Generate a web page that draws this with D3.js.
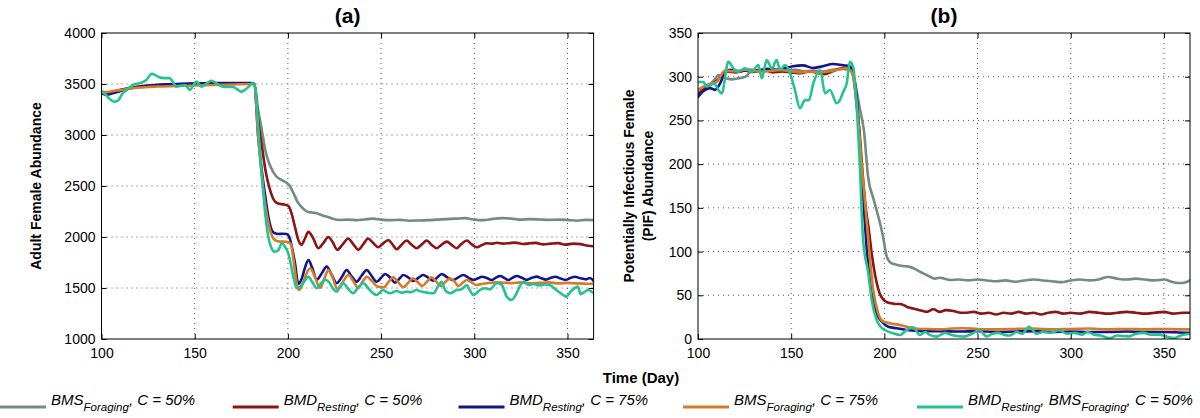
<!DOCTYPE html>
<html><head><meta charset="utf-8">
<script src="https://cdn.jsdelivr.net/npm/d3@7"></script>
<style>
body{margin:0;background:#fff}
svg{display:block}
text{font-family:"Liberation Sans",Arial,Helvetica,sans-serif;fill:#000}
</style>
</head><body>
<svg id="chart" width="1200" height="418"></svg>
<script>
// ---------- data ----------
const xTicks = [100,150,200,250,300,350];
const aTicks = [1000,1500,2000,2500,3000,3500,4000];
const bTicks = [0,50,100,150,200,250,300,350];
const xDomain = [100,364];
const aDomain = [1000,4000];
const bDomain = [0,350];
const titles = ["(a)","(b)"];
const aYLabel = ["Adult Female Abundance"];
const bYLabel = ["Potentially Infectious Female","(PIF) Abundance"];
const xLabel = "Time (Day)";
const seriesColors = ["#718c84","#8c1414","#14148c","#d77a28","#22c391"];

// Panel (a): adult female abundance  [day, value]
const aGrey = [[100,3420],[103,3408],[106,3420],[110,3440],[115,3460],[120,3475],[125,3485],[130,3490],[140,3495],[150,3500],[160,3500],[170,3505],[180,3505],[182,3500],[184,3250],[186,3050],[188,2840],[190,2720],[192,2640],[194,2590],[196,2565],[198,2545],[199.5,2530],[201,2500],[203,2430],[205,2350],[207,2300],[209,2265],[211,2245],[213,2240],[215.5,2232],[218,2215],[221,2199],[224,2180],[228,2167],[232,2170],[237,2165],[241,2172],[245.7,2180],[250,2170],[255,2165],[260,2168],[265,2160],[270,2162],[275,2165],[280,2170],[285,2175],[290,2180],[295,2185],[300,2170],[305,2165],[310,2178],[315,2185],[320,2180],[325,2170],[330,2175],[335,2172],[340,2168],[345,2170],[350,2168],[355,2160],[360,2168],[364,2165]];
const aRed = [[100,3420],[103,3405],[106,3420],[110,3440],[115,3460],[120,3475],[125,3485],[130,3490],[140,3495],[150,3500],[160,3500],[170,3505],[180,3505],[182,3500],[184,3150],[186,2900],[188,2650],[190.4,2461],[192,2380],[193.5,2340],[195.5,2325],[197.5,2320],[200.2,2305],[202,2230],[203.5,2120],[205.6,1971],[207.4,1925],[209,1980],[211,2050],[213.5,1990],[216.3,1890],[219,1940],[221.7,2000],[224,1950],[226.5,1875],[229.5,1930],[232.4,1985],[235,1930],[237.8,1875],[240.5,1930],[243,1985],[245.5,1945],[248.5,1900],[251,1935],[253.9,1970],[256,1930],[258.4,1880],[261,1925],[263.7,1965],[266,1930],[269,1890],[272,1930],[274.5,1965],[277,1925],[279.8,1890],[282.5,1925],[285.2,1955],[288,1920],[290.5,1890],[293,1930],[296,1965],[298.5,1930],[301.3,1900],[304,1920],[306.7,1938],[309.5,1935],[312,1944],[315.5,1935],[319,1940],[322,1945],[326,1932],[330,1938],[333,1942],[337,1928],[341,1935],[345,1940],[349,1925],[353,1935],[357,1930],[361,1915],[364,1910]];
const aNavy = [[100,3410],[103,3395],[106,3410],[110,3430],[115,3455],[120,3470],[125,3480],[130,3490],[140,3500],[150,3505],[160,3510],[170,3510],[180,3510],[182,3500],[184,3000],[186,2650],[188,2380],[189.5,2200],[191.3,2069],[193,2036],[195,2030],[197,2032],[199.4,2030],[201,1987],[202.5,1870],[203.8,1742],[205.6,1540],[207.4,1590],[209,1690],[211,1775],[213,1700],[215.5,1580],[218,1640],[220.8,1710],[223.5,1630],[226.2,1548],[229,1610],[231.5,1676],[234,1620],[236.9,1562],[239.5,1620],[242.3,1676],[244.5,1630],[247.6,1562],[250,1600],[252.1,1637],[255,1600],[257.5,1552],[260,1595],[261.9,1627],[264.5,1605],[267.3,1569],[270,1600],[272.6,1627],[275,1605],[278,1572],[280,1600],[282.5,1637],[285.5,1605],[288.7,1578],[291,1600],[294.1,1627],[297,1600],[299.5,1578],[302,1595],[304,1611],[307,1595],[309.3,1578],[311.5,1600],[313.8,1617],[316,1600],[318.2,1578],[320.5,1600],[322.7,1617],[325.5,1600],[328,1580],[331,1600],[333.5,1612],[336,1595],[338.5,1582],[341,1600],[343.5,1610],[346,1595],[349,1580],[351.5,1598],[354,1610],[357,1595],[360,1585],[362,1598],[364,1570]];
const aOrange = [[100,3430],[103,3420],[106,3430],[110,3440],[115,3455],[120,3465],[125,3470],[130,3475],[140,3480],[150,3485],[160,3490],[170,3495],[180,3500],[182,3495],[184,3000],[186,2600],[188,2300],[190,2100],[192,1990],[194,1960],[196,1955],[198,1955],[200,1950],[201.6,1930],[203,1780],[204.7,1550],[206,1480],[207.5,1520],[209.5,1620],[211.9,1693],[214.5,1610],[217.2,1500],[219.5,1590],[221.7,1676],[224,1600],[226.5,1490],[229.5,1560],[232.4,1627],[235,1570],[237.8,1500],[240,1560],[242.3,1611],[245,1570],[248,1515],[251.5,1507],[254,1560],[256.6,1604],[259,1560],[262,1507],[264.5,1550],[267,1594],[269.5,1560],[272,1520],[274.5,1560],[277,1604],[279.5,1565],[282,1520],[284.5,1560],[287,1594],[289.5,1560],[291.5,1520],[294,1555],[296,1578],[298.5,1555],[301,1530],[304,1540],[306.7,1546],[311,1555],[315.6,1552],[320,1548],[325,1555],[330,1545],[335,1550],[340,1555],[345,1545],[350,1550],[355,1545],[360,1542],[364,1540]];
const aTeal = [[100,3425],[102,3400],[104,3360],[107,3326],[109,3340],[111,3400],[114,3450],[118,3500],[121,3510],[124,3540],[127,3600],[129.6,3580],[132,3560],[136.7,3556],[138,3530],[140,3474],[142,3480],[144.8,3490],[147.5,3441],[149,3480],[151,3523],[153.7,3474],[156,3500],[159,3532],[162,3500],[165,3474],[168,3470],[170.5,3470],[173,3445],[175,3425],[178,3458],[181.3,3507],[182.5,3470],[184,3100],[185.5,2700],[186.5,2500],[188,2200],[189.5,2003],[191,1900],[193,1856],[194.9,1873],[196.7,1938],[198.4,1905],[200.2,1840],[201.5,1740],[202.9,1611],[204.7,1497],[206.5,1513],[209,1570],[211,1611],[213,1560],[215.5,1497],[217.5,1540],[219.9,1578],[222,1560],[224,1500],[226.2,1464],[228,1510],[229.7,1546],[232,1500],[235,1448],[237.5,1500],[240.4,1546],[243,1500],[245.8,1448],[247.6,1431],[249.5,1460],[251.2,1480],[253,1460],[254.8,1448],[258.4,1470],[261,1455],[263.7,1464],[266,1460],[269,1480],[271.5,1465],[274.5,1455],[278,1448],[280.7,1520],[282.5,1562],[284.3,1480],[287,1448],[290.5,1480],[293.2,1487],[296,1530],[297.5,1480],[299.5,1431],[301.5,1455],[303,1480],[305.7,1497],[308.4,1487],[312,1546],[314.7,1530],[317.4,1415],[320,1383],[322.7,1448],[324.5,1520],[326.6,1562],[329,1530],[332,1540],[335,1525],[338,1535],[341,1525],[344,1480],[347,1440],[349.3,1415],[352,1470],[355.6,1513],[357,1440],[359,1460],[361,1480],[364,1448]];

// Panel (b): potentially infectious female abundance  [day, value]
const bGrey = [[100,284],[103,286],[106,290],[109,297],[111,302],[113,300],[115.5,298],[118.2,297],[121,298],[125.4,300],[128,305],[132,306],[137,307],[142,306],[147,307],[152,308],[157,306],[162,307],[167,306],[172,308],[177,309],[181,308],[183,304],[185,285],[187,262],[189,239],[191.3,185],[194.2,160],[197,138],[199.2,118],[201.2,95],[203.5,87],[206.5,85],[210,83.5],[213.7,82.5],[216.5,80],[219,77],[222,74],[224.4,71.3],[227,69],[229.8,70],[232.2,69],[235.2,67.5],[240,68],[245,67],[250,68],[255,67],[260,66],[265,67],[270,65.5],[275,67],[280,68],[285,67],[290,66],[295,65],[300,67],[305,68],[310,67],[315,68],[320,71],[325,69],[330,68],[335,69],[340,68],[345,67],[350,68],[355,65],[360,64],[364,67]];
const bRed = [[100,280],[103,285],[106,290],[110,295],[113,302],[116,306],[120,305],[125,307],[130,306],[135,308],[140,305],[145,306],[150,305],[155,304],[160,306],[165,304],[168,303],[172,306],[176,309],[180,310],[182,308],[183.5,300],[185,270],[186.6,239],[188.3,190],[190,150],[191.5,128],[193.2,98],[195.5,68],[197.5,52],[199.5,45],[201.5,42],[203.8,40.8],[206,40],[208.4,40],[211,38],[213,36],[215.5,35],[219,33],[222.7,31],[226.3,34],[229.8,31],[233,33],[237,32],[241,30],[244.2,30],[248,31],[252,29],[256,30],[260,28],[264,30],[268,29],[272,31],[276,29],[280,30],[284,28],[288,30],[292,31],[296,29],[300,30],[305,29],[310,31],[315,30],[320,29],[325,30],[330,31],[335,30],[340,29],[345,30],[350,31],[355,29],[360,30],[364,30]];
const bNavy = [[100,277],[103.8,285],[106.4,287],[109.1,285],[111.8,292],[114.5,305],[117.2,308],[122,306],[127,308],[132,307],[137,309],[142,308],[147,310],[151,312],[156.3,313],[161.7,310],[167,312],[172.4,314.5],[177.9,313],[181.5,312],[183,305],[185,280],[187,220],[189.3,140],[191.3,85],[193.2,52],[195.9,29],[198.6,20],[202.1,14],[206.6,12.3],[212,10.3],[220,9],[230,9],[240,8.5],[250,9],[260,8],[270,8.5],[280,9],[290,8],[300,8.5],[310,8],[320,8],[330,8.5],[340,8],[350,8],[358,7.5],[364,7]];
const bOrange = [[100,285],[104.7,290.5],[110,294],[114.5,307],[120,306],[125,308],[130,307],[135,306],[140,307],[144,307.7],[150,306],[155,305],[160,306],[165,305],[170,306],[175,308],[179.7,309.6],[182,307],[184,290],[186,250],[188,195],[191.4,113],[194,56],[196.7,29.4],[199.4,20],[203,18],[208.4,16],[212,14],[215.5,12.3],[220,11.5],[224.4,11.4],[230,11],[236,12],[242.3,12.3],[250,11.5],[260,11],[270,11.5],[280,12],[290,11],[300,11.5],[310,12],[320,11],[330,11.5],[340,11],[350,11.5],[358,11],[364,11]];
const bTeal = [[100,294],[102.9,294],[104.7,288.6],[108.3,292.5],[112.7,281],[116.3,317],[119,309.6],[121.7,305.7],[125.2,309.6],[128.8,305.7],[132.4,313.4],[134.2,298.2],[136.9,319],[139.6,309.6],[142.2,319],[144,307.7],[146.7,313.4],[149.4,303.9],[152,284.8],[154.7,263.9],[157.4,273.4],[159.5,273],[161.9,292.5],[165.5,307.7],[168.2,281],[170.8,284.8],[174.4,269.6],[176.5,275],[178,283],[179.8,292.5],[181.5,317],[183.3,311],[185,270],[186.8,200],[188.6,113],[191.4,75],[193.2,44.6],[195.9,21.7],[198,14],[200.3,10.3],[204.8,6.5],[208.4,4.6],[212,10.3],[215.5,13.4],[219,4.6],[222,8],[224.1,5],[228.1,2.7],[232.4,7],[237,4],[242.7,2.7],[247,6],[251,10],[255,3],[258,6],[261.2,7],[264,5],[267.3,4],[271,8],[274,6],[277.6,14],[281.7,6],[285,8],[289,7],[293.9,10],[298,6],[302.2,7],[306,5],[309,8],[312.5,5],[316,4],[320.8,1],[325,4],[331,3],[335,6],[339.2,7],[343,5],[347.4,5],[351,3],[355.6,1],[359,4],[364,6]];

// legend entries: pieces of text, second element true = subscript
const legendParts = [
  [["BMS",false],["Foraging",true],[", C = 50%",false]],
  [["BMD",false],["Resting",true],[", C = 50%",false]],
  [["BMD",false],["Resting",true],[", C = 75%",false]],
  [["BMS",false],["Foraging",true],[", C = 75%",false]],
  [["BMD",false],["Resting",true],[", ",false],["BMS",false],["Foraging",true],[", C = 50%",false]]
];

// ---------- layout ----------
const svg = d3.select("#chart");
const panels = [
  {left:101.5, right:593.6, top:33, bottom:339, dom:aDomain, ticks:aTicks, series:[aGrey,aRed,aNavy,aOrange,aTeal], title:titles[0], ylab:aYLabel, ylabX:[36]},
  {left:698, right:1190, top:33, bottom:339, dom:bDomain, ticks:bTicks, series:[bGrey,bRed,bNavy,bOrange,bTeal], title:titles[1], ylab:bYLabel, ylabX:[628.5,647.5]}
];
const fmt = d3.format("d");

panels.forEach((p,pi)=>{
  const x = d3.scaleLinear().domain(xDomain).range([p.left,p.right]);
  const y = d3.scaleLinear().domain(p.dom).range([p.bottom,p.top]);
  const g = svg.append("g");

  // grid (dotted)
  g.append("g").selectAll("line").data(xTicks.filter(t=>t>xDomain[0]&&t<xDomain[1])).join("line")
    .attr("x1",d=>x(d)).attr("x2",d=>x(d)).attr("y1",p.top).attr("y2",p.bottom)
    .attr("stroke","#555").attr("stroke-width",1).attr("stroke-dasharray","1,4");
  g.append("g").selectAll("line").data(p.ticks.filter(t=>t>p.dom[0]&&t<p.dom[1])).join("line")
    .attr("x1",p.left).attr("x2",p.right).attr("y1",d=>y(d)).attr("y2",d=>y(d))
    .attr("stroke","#555").attr("stroke-width",1).attr("stroke-dasharray","1,4");

  // series
  const clipId = "clip"+pi;
  svg.append("clipPath").attr("id",clipId).append("rect")
    .attr("x",p.left).attr("y",p.top-2).attr("width",p.right-p.left).attr("height",p.bottom-p.top+2);
  const line = d3.line().x(d=>x(d[0])).y(d=>y(d[1])).curve(d3.curveMonotoneX);
  const sg = g.append("g").attr("clip-path",`url(#${clipId})`);
  p.series.forEach((s,i)=>{
    sg.append("path").datum(s).attr("d",line).attr("fill","none")
      .attr("stroke",seriesColors[i]).attr("stroke-width",2.6)
      .attr("stroke-linejoin","round").attr("stroke-linecap","round");
  });

  // axes (inward ticks on all sides)
  const axL = d3.axisLeft(y).tickValues(p.ticks).tickFormat(fmt).tickSize(-5).tickSizeOuter(0).tickPadding(6);
  const axB = d3.axisBottom(x).tickValues(xTicks).tickFormat(fmt).tickSize(-5).tickSizeOuter(0).tickPadding(9);
  const axR = d3.axisRight(y).tickValues(p.ticks).tickSize(-5).tickSizeOuter(0).tickFormat("");
  const axT = d3.axisTop(x).tickValues(xTicks).tickSize(-5).tickSizeOuter(0).tickFormat("");
  [[axL,`translate(${p.left},0)`],[axB,`translate(0,${p.bottom})`],[axR,`translate(${p.right},0)`],[axT,`translate(0,${p.top})`]]
    .forEach(([ax,tr])=>{
      const a = g.append("g").attr("transform",tr).call(ax);
      a.select(".domain").remove();
      a.selectAll("line").attr("stroke","#000");
      a.selectAll("text").attr("font-size",14).attr("font-family",'"Liberation Sans",Arial,sans-serif').attr("fill","#000");
    });
  g.append("rect").attr("x",p.left).attr("y",p.top).attr("width",p.right-p.left).attr("height",p.bottom-p.top)
    .attr("fill","none").attr("stroke","#000").attr("stroke-width",1);

  // title
  g.append("text").attr("x",(p.left+p.right)/2).attr("y",23).attr("text-anchor","middle")
    .attr("font-size",21).attr("font-weight","bold").text(p.title);

  // y label
  p.ylab.forEach((t,k)=>{
    g.append("text").attr("transform",`translate(${p.ylabX[k]},${(p.top+p.bottom)/2}) rotate(-90)`)
      .attr("text-anchor","middle").attr("dominant-baseline","central")
      .attr("font-size",14).attr("font-weight","bold").text(t);
  });
});

// x label
svg.append("text").attr("x",641).attr("y",383).attr("text-anchor","middle")
  .attr("font-size",15).attr("font-weight","bold").text(xLabel);

// legend
const legendX = [0,232.7,458.5,683,917];
const legendY = 407;
legendParts.forEach((parts,i)=>{
  const lx = legendX[i];
  svg.append("line").attr("x1",lx).attr("x2",lx+46).attr("y1",legendY).attr("y2",legendY)
    .attr("stroke",seriesColors[i]).attr("stroke-width",3);
  const t = svg.append("text").attr("x",lx+51).attr("y",405).attr("font-size",15).attr("font-style","italic");
  let prevSub = false;
  parts.forEach(([s,isSub])=>{
    const dy = isSub===prevSub ? 0 : (isSub ? 6 : -6);
    const ts = t.append("tspan").attr("dy",dy).text(s);
    if (isSub) ts.attr("font-size",11.5);
    prevSub = isSub;
  });
});
</script>
</body></html>
